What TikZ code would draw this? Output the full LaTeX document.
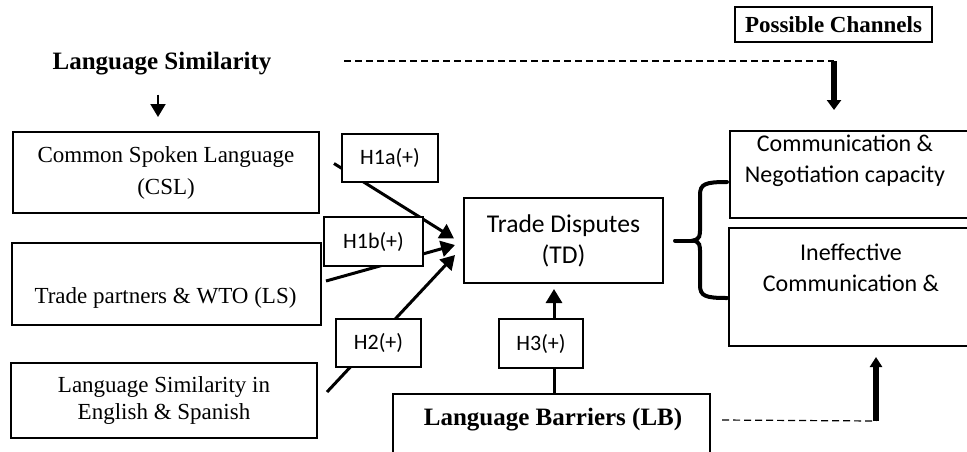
\documentclass[tikz,border=0pt]{standalone}
\usepackage{fontspec}
\setmainfont{Liberation Serif}
\newfontfamily\calibri{Carlito}
\usetikzlibrary{arrows.meta}

\begin{document}
\begin{tikzpicture}[x=0.5pt, y=-0.5pt]
  \def\boxline{1pt}
  \tikzstyle{box} = [rectangle, draw, fill=white, line width=\boxline, inner sep=0pt]
  \tikzstyle{serif} = [font=\fontsize{11.5}{16}\selectfont, align=center]
  \tikzstyle{heading} = [font=\bfseries\fontsize{12.5}{15}\selectfont]
  \tikzstyle{sans} = [font=\calibri\fontsize{12}{15.5}\selectfont, align=center]
  \tikzstyle{hyp} = [box, font=\calibri\fontsize{11}{12}\selectfont]
  \tikzstyle{link} = [line width=1.5pt, -{Triangle[width=8pt,length=7pt]}]
  \tikzstyle{channel} = [line width=3pt, -{Triangle[width=7pt,length=5pt]}]
  \tikzstyle{dashline} = [line width=0.6pt, dash pattern=on 3.5pt off 2pt]
  \tikzstyle{brace} = [line width=2pt, line cap=round]

  \useasboundingbox (0,0) rectangle (967,451);
  \clip (0,0) rectangle (967,451);

  % headings
  \node[heading] (simtitle) at (162,64) {Language Similarity};
  \node[box, font=\bfseries\fontsize{11.5}{14}\selectfont, minimum width=98.5pt, minimum height=17.5pt] (channels) at (833.5,24.5) {Possible Channels};

  % language similarity measures
  \node[box, serif, minimum width=153pt, minimum height=40.5pt] (csl) at (166,172.5) {Common Spoken Language\\(CSL)};
  \node[box, minimum width=154.5pt, minimum height=41pt] (ls) at (166.5,284) {};
  \node[serif] (lstext) at (165.5,298) {Trade partners \& WTO (LS)};
  \node[box, serif, font=\fontsize{11.5}{13.5}\selectfont, minimum width=153pt, minimum height=37.5pt] (lse) at (164,400.5) {Language Similarity in\\English \& Spanish};

  % outcome and barriers
  \node[box, sans, font=\calibri\fontsize{12.8}{15.5}\selectfont, minimum width=99.5pt, minimum height=42.5pt] (td) at (563.5,240.5) {Trade Disputes\\(TD)};
  \node[box, minimum width=158.5pt, minimum height=50pt, anchor=north] (lb) at (551.5,393) {};
  \node[heading] (lbtext) at (553,420) {Language Barriers (LB)};

  % channels
  \node[box, minimum width=130pt, minimum height=43.5pt, anchor=north west] (comm1) at (729,130) {};
  \node[sans] (comm1text) at (845,161) {Communication \&\\Negotiation capacity};
  \node[box, minimum width=130pt, minimum height=59pt, anchor=north west] (comm2) at (728,227) {};
  \node[sans] (comm2text) at (851,267.5) {Ineffective\\Communication \&};

  \coordinate (chtop) at (834,61);
  \coordinate (chbot) at (876,421);
  \coordinate (cusp) at (693,240.5);

  \draw[line width=1pt, -{Triangle[width=7.5pt,length=6.5pt]}] ([xshift=-2pt,yshift=-6pt]simtitle.south) -- ([xshift=-4pt,yshift=7pt]csl.north);
  \draw[dashline] ([xshift=33pt]simtitle.east |- chtop) -- (chtop);
  \draw[channel] (chtop) -- ([yshift=10pt]chtop |- comm1.north);

  \draw[link] ([xshift=7pt,yshift=4.5pt]csl.east) -- ([xshift=-4.5pt,yshift=1pt]td.west);
  \draw[link] ([xshift=2pt,yshift=1.5pt]ls.east) -- ([xshift=-4pt,yshift=-2.25pt]td.west);
  \draw[link] ([xshift=4.5pt,yshift=4.25pt]lse.east) -- ([xshift=-4pt,yshift=-7.25pt]td.west);
  \draw[link] ([xshift=1.25pt]lb.north) -- ([xshift=-4.75pt,yshift=-2.5pt]td.south);

  \draw[dashline] ([xshift=5.5pt]lb.east |- lbtext) -- (chbot);
  \draw[channel, -{Triangle[width=6pt,length=5pt]}] (chbot) -- ([yshift=-5pt]chbot |- comm2.south);

  % brace towards the channels
  \draw[brace] ([xshift=5.5pt]td.east) -- (cusp);
  \draw[brace] (727,182) .. controls (705,182) and (700,184) .. (700,195) -- (700,228)
    .. controls (700,236) and (700,239) .. (cusp)
    .. controls (700,242) and (700,245) .. (700,253) -- (700,285)
    .. controls (700,296) and (705,298) .. (727,298);

  % hypotheses
  \node[hyp, minimum width=48pt, minimum height=24pt] (h1a) at (390,158) {H1a(+)};
  \node[hyp, minimum width=49.5pt, minimum height=24.5pt] (h1b) at (373.5,241.5) {H1b(+)};
  \node[hyp, minimum width=42.5pt, minimum height=24pt] (h2) at (378.5,343) {H2(+)};
  \node[hyp, minimum width=42pt, minimum height=24.5pt] (h3) at (541,343.5) {H3(+)};

\end{tikzpicture}
\end{document}
